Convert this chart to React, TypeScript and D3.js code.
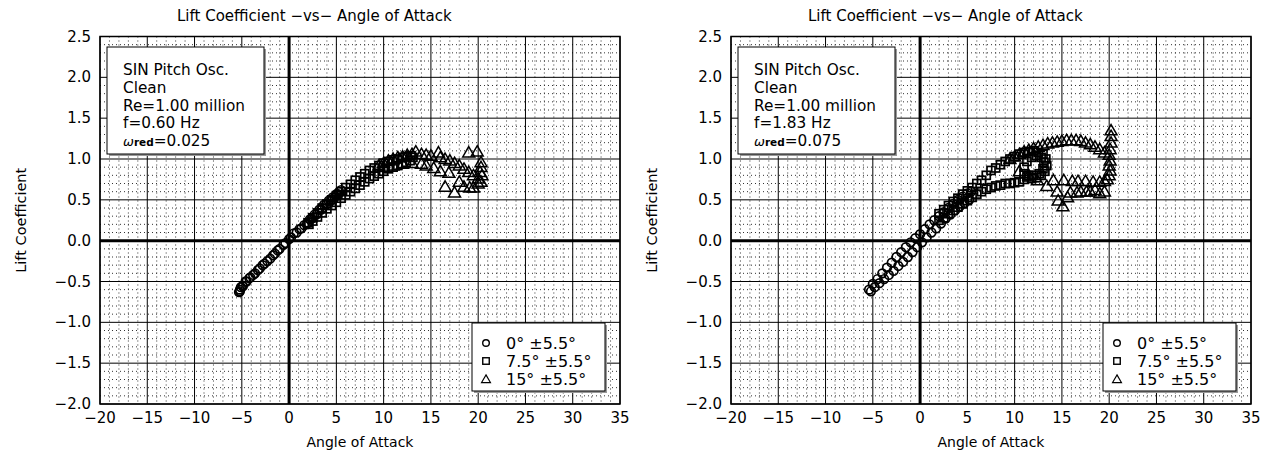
import React from 'react';
import * as d3 from 'd3';

// x ticks / y ticks
const xTicks = [-20, -15, -10, -5, 0, 5, 10, 15, 20, 25, 30, 35];
const yTicks = [-2.0, -1.5, -1.0, -0.5, 0.0, 0.5, 1.0, 1.5, 2.0, 2.5];
const legendLabels = ['0\u00B0 \u00B15.5\u00B0', '7.5\u00B0 \u00B15.5\u00B0', '15\u00B0 \u00B15.5\u00B0'];

// left panel: f = 0.60 Hz
const leftInfo = ['SIN Pitch Osc.', 'Clean', 'Re=1.00 million', 'f=0.60 Hz', '0.025'];
const leftCircles = [
  [-5.3, -0.63], [-5.2, -0.6], [-5.1, -0.57], [-4.9, -0.55], [-4.6, -0.5], [-4.2, -0.46], [-3.8, -0.42],
  [-3.3, -0.36], [-2.8, -0.3], [-2.3, -0.25], [-1.7, -0.18], [-1.2, -0.12], [-0.6, -0.05], [0, 0.02],
  [0.5, 0.09], [1.1, 0.14], [1.6, 0.19], [2.2, 0.26], [2.7, 0.32], [3.2, 0.38], [3.7, 0.44], [4.2, 0.49],
  [4.6, 0.53], [5.0, 0.57], [5.3, 0.6], [5.5, 0.62], [5.2, 0.57], [4.8, 0.53], [4.4, 0.49], [3.9, 0.44],
  [3.4, 0.38], [2.9, 0.32], [2.4, 0.27], [1.9, 0.21], [1.3, 0.15], [0.8, 0.1], [0.2, 0.04], [-0.4, -0.03],
  [-1.0, -0.1], [-1.5, -0.16], [-2.0, -0.22], [-2.6, -0.28], [-3.1, -0.34], [-3.6, -0.4], [-4.1, -0.45],
  [-4.5, -0.5], [-4.9, -0.56], [-5.2, -0.62],
];
const leftSquares = [
  [2.0, 0.22], [2.5, 0.28], [3.0, 0.34], [3.5, 0.4], [4.0, 0.45], [4.5, 0.5], [5.0, 0.55], [5.5, 0.6],
  [6.0, 0.65], [6.5, 0.69], [7.0, 0.74], [7.5, 0.78], [8.0, 0.82], [8.5, 0.86], [9.0, 0.89], [9.5, 0.92],
  [10.0, 0.95], [10.5, 0.97], [11.0, 0.99], [11.5, 1.0], [12.0, 1.02], [12.5, 1.03], [12.9, 1.04], [13.1, 1.02],
  [12.8, 0.98], [12.4, 0.96], [12.0, 0.94], [11.5, 0.92], [11.0, 0.9], [10.5, 0.88], [10.0, 0.85], [9.5, 0.82],
  [9.0, 0.79], [8.5, 0.76], [8.0, 0.72], [7.5, 0.68], [7.0, 0.64], [6.5, 0.6], [6.0, 0.56], [5.5, 0.52],
  [5.0, 0.47], [4.5, 0.43], [4.0, 0.39], [3.5, 0.34], [3.0, 0.29], [2.5, 0.24], [2.1, 0.2],
];
const leftTriangles = [
  [9.5, 0.92], [10.0, 0.95], [10.5, 0.98], [11.0, 1.0], [11.5, 1.02], [12.0, 1.03], [12.5, 1.05], [13.0, 1.06],
  [13.4, 1.09], [14.0, 1.06], [14.5, 1.05], [15.0, 1.04], [15.8, 1.08], [16.0, 1.02], [16.5, 1.0], [17.0, 0.98],
  [17.5, 0.95], [18.0, 0.92], [18.5, 0.88], [19.0, 0.84], [19.0, 1.08], [19.5, 0.8], [19.9, 1.09], [20.0, 0.76],
  [20.3, 0.96], [20.3, 0.9], [20.2, 0.84], [20.4, 0.8], [20.3, 0.72], [20.0, 0.7], [19.5, 0.65], [19.1, 0.65],
  [18.5, 0.66], [18.0, 0.72], [17.5, 0.59], [16.5, 0.66], [16.9, 0.83], [16.0, 0.85], [15.3, 0.89], [14.5, 0.92],
  [14.0, 0.94], [13.0, 0.95], [12.0, 0.94], [11.0, 0.92], [10.0, 0.9],
];

// right panel: f = 1.83 Hz
const rightInfo = ['SIN Pitch Osc.', 'Clean', 'Re=1.00 million', 'f=1.83 Hz', '0.075'];
const rightCircles = [
  [-5.4, -0.6], [-5.0, -0.53], [-4.5, -0.47], [-4.0, -0.4], [-3.5, -0.33], [-3.0, -0.27], [-2.5, -0.2],
  [-2.0, -0.14], [-1.5, -0.08], [-1.0, -0.02], [-0.5, 0.03], [0.0, 0.08], [0.5, 0.14], [1.0, 0.2],
  [1.5, 0.25], [2.0, 0.3], [2.5, 0.35], [3.0, 0.4], [3.5, 0.45], [4.0, 0.5], [4.5, 0.54], [5.0, 0.58],
  [5.4, 0.6], [5.2, 0.5], [4.7, 0.46], [4.2, 0.42], [3.7, 0.37], [3.2, 0.32], [2.7, 0.27], [2.2, 0.21],
  [1.7, 0.15], [1.2, 0.1], [0.7, 0.04], [0.2, -0.02], [-0.3, -0.08], [-0.8, -0.14], [-1.3, -0.2],
  [-1.8, -0.26], [-2.3, -0.31], [-2.8, -0.37], [-3.3, -0.42], [-3.8, -0.47], [-4.3, -0.52], [-4.8, -0.57],
  [-5.2, -0.62],
];
const rightSquares = [
  [2.0, 0.33], [2.5, 0.38], [3.0, 0.43], [3.5, 0.48], [4.0, 0.52], [4.5, 0.57], [5.0, 0.61], [5.5, 0.65],
  [6.0, 0.7], [6.5, 0.74], [7.0, 0.8], [7.5, 0.86], [8.0, 0.89], [8.5, 0.93], [9.0, 0.97], [9.5, 1.0],
  [10.0, 1.03], [10.5, 1.06], [11.0, 1.08], [11.5, 1.09], [12.0, 1.1], [12.5, 1.08], [13.0, 1.06], [13.3, 1.0],
  [13.4, 0.92], [13.2, 0.85], [12.8, 0.8], [12.3, 0.77], [11.8, 0.76], [11.3, 0.78], [11.0, 0.82], [11.0, 0.9],
  [11.3, 0.97], [11.8, 1.02], [12.3, 1.04], [12.8, 1.02], [13.1, 0.96], [13.0, 0.88], [12.6, 0.82], [12.0, 0.8],
  [11.5, 0.8], [11.0, 0.75], [10.5, 0.72], [10.0, 0.71], [9.5, 0.7], [9.0, 0.7], [8.5, 0.68], [8.0, 0.67],
  [7.5, 0.65], [7.0, 0.63], [6.5, 0.6], [6.0, 0.57], [5.5, 0.53], [5.0, 0.49], [4.5, 0.45], [4.0, 0.41],
  [3.5, 0.37], [3.0, 0.33], [2.5, 0.28], [2.0, 0.25],
];
const rightTriangles = [
  [9.5, 1.0], [10.0, 1.03], [10.5, 1.06], [11.0, 1.09], [11.5, 1.11], [12.0, 1.13], [12.5, 1.15], [13.0, 1.17],
  [13.5, 1.19], [14.0, 1.2], [14.5, 1.21], [15.0, 1.22], [15.5, 1.23], [16.0, 1.23], [16.5, 1.23], [17.0, 1.22],
  [17.5, 1.2], [18.0, 1.18], [18.5, 1.15], [19.0, 1.12], [19.5, 1.08], [20.0, 1.05], [20.2, 1.35], [20.2, 1.28],
  [20.2, 1.2], [20.1, 1.12], [20.1, 0.98], [20.0, 0.92], [20.1, 0.86], [20.0, 0.8], [19.8, 0.75], [19.5, 0.6],
  [19.0, 0.58], [18.5, 0.62], [18.0, 0.6], [17.6, 0.6], [17.0, 0.6], [16.6, 0.59], [15.9, 0.59], [15.6, 0.53],
  [15.1, 0.42], [14.6, 0.49], [14.5, 0.6], [13.4, 0.67], [12.4, 0.74], [14.1, 0.74], [15.2, 0.74], [16.1, 0.73],
  [16.7, 0.73], [17.5, 0.73], [18.3, 0.72], [19.0, 0.72], [19.5, 0.73], [11.5, 0.8], [10.5, 0.85],
];

const FONT = 'DejaVu Sans, sans-serif';
const TOP = 36.5;
const BOTTOM = 404;

const tri = d3.symbol().type(d3.symbolTriangle).size(62)();
const triSmall = d3.symbol().type(d3.symbolTriangle).size(34)();

function Marker({ kind, x, y, small }) {
  const sw = small ? 1.4 : 1.7;
  if (kind === 0) return <circle cx={x} cy={y} r={small ? 3.3 : 4.3} fill="none" stroke="#000" strokeWidth={sw} />;
  if (kind === 1) {
    const s = small ? 6.5 : 8;
    return <rect x={x - s / 2} y={y - s / 2} width={s} height={s} fill="none" stroke="#000" strokeWidth={sw} />;
  }
  return <path d={small ? triSmall : tri} transform={`translate(${x},${y + 1})`} fill="none" stroke="#000" strokeWidth={sw - 0.2} />;
}

function Panel({ left, info, series }) {
  const x = d3.scaleLinear().domain([-20, 35]).range([left, left + 520]);
  const y = d3.scaleLinear().domain([-2.0, 2.5]).range([BOTTOM, TOP]);
  const minorX = d3.range(-20, 36, 1).filter((v) => v % 5 !== 0);
  const minorY = d3.range(-20, 26, 1).filter((v) => v % 5 !== 0).map((v) => v / 10);
  const right = left + 520;
  const mid = (left + right) / 2;

  return (
    <g fontFamily={FONT}>
      <text x={left + 77} y={21} fontSize={15}>Lift Coefficient {'\u2212'}vs{'\u2212'} Angle of Attack</text>
      {minorX.map((v) => (
        <line key={'mx' + v} x1={x(v)} x2={x(v)} y1={TOP} y2={BOTTOM} stroke="#333" strokeWidth={1} strokeDasharray="1,3" />
      ))}
      {minorY.map((v) => (
        <line key={'my' + v} x1={left} x2={right} y1={y(v)} y2={y(v)} stroke="#333" strokeWidth={1} strokeDasharray="1,3" />
      ))}
      {xTicks.map((v) => (
        <line key={'gx' + v} x1={x(v)} x2={x(v)} y1={TOP} y2={BOTTOM} stroke="#000" strokeWidth={v === 0 ? 3 : 1} />
      ))}
      {yTicks.map((v) => (
        <line key={'gy' + v} x1={left} x2={right} y1={y(v)} y2={y(v)} stroke="#000" strokeWidth={v === 0 ? 3 : 1} />
      ))}
      <rect x={left} y={TOP} width={520} height={BOTTOM - TOP} fill="none" stroke="#000" strokeWidth={1.5} />

      {xTicks.map((v) => (
        <text key={'xt' + v} x={x(v)} y={423} fontSize={15} textAnchor="middle">
          {v < 0 ? '\u2212' + Math.abs(v) : v}
        </text>
      ))}
      {yTicks.map((v) => (
        <text key={'yt' + v} x={left - 9} y={y(v) + 5} fontSize={15} textAnchor="end">
          {(v < 0 ? '\u2212' : '') + Math.abs(v).toFixed(1)}
        </text>
      ))}
      <text x={mid} y={447} fontSize={14} textAnchor="middle">Angle of Attack</text>
      <text transform={`translate(${left - 74},${(TOP + BOTTOM) / 2}) rotate(-90)`} fontSize={14.5} textAnchor="middle">
        Lift Coefficient
      </text>

      {series.map((pts, k) =>
        pts.map(([a, c], i) => <Marker key={k + '-' + i} kind={k} x={x(a)} y={y(c)} />)
      )}

      <rect x={left + 9} y={49} width={157} height={107} fill="#999" />
      <rect x={left + 7} y={47} width={157} height={107} fill="#fff" stroke="#000" strokeWidth={1} />
      {info.slice(0, 4).map((t, i) => (
        <text key={'in' + i} x={left + 23} y={75 + i * 17.8} fontSize={15.3}>{t}</text>
      ))}
      <text x={left + 23} y={146} fontSize={15.3}>
        <tspan fontSize={13} fontStyle="italic">{'\u03C9'}</tspan>
        <tspan fontSize={10.5} fontWeight="bold">red</tspan>
        <tspan>={info[4]}</tspan>
      </text>

      <rect x={left + 374} y={325} width={133} height={68} fill="#999" />
      <rect x={left + 372} y={323} width={133} height={68} fill="#fff" stroke="#000" strokeWidth={1} />
      {legendLabels.map((t, i) => (
        <g key={'lg' + i}>
          <Marker kind={i} x={left + 386} y={343 + i * 18} small />
          <text x={left + 406} y={349 + i * 18} fontSize={16}>{t}</text>
        </g>
      ))}
    </g>
  );
}

export default function App() {
  return (
    <svg width={1265} height={454} style={{ position: 'absolute', left: 0, top: 0, background: '#fff' }}>
      <rect width={1265} height={454} fill="#fff" />
      <Panel left={100} info={leftInfo} series={[leftCircles, leftSquares, leftTriangles]} />
      <Panel left={731} info={rightInfo} series={[rightCircles, rightSquares, rightTriangles]} />
    </svg>
  );
}
